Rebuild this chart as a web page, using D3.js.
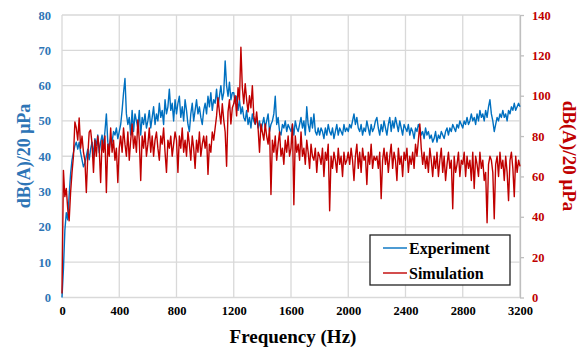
<!DOCTYPE html>
<html>
<head>
<meta charset="utf-8">
<script src="https://cdn.jsdelivr.net/npm/d3@7"></script>
<style>
  body { margin: 0; background: #fff; }
  svg { display: block; }
</style>
</head>
<body>
<div id="chart"></div>
<script>
// Frequency step of the sampled curves (Hz)
const freqStep = 10;

// Experiment, left axis dB(A), one value every 10 Hz from 0 to 3200
const experiment = [
  0, 8, 19, 24, 22, 29, 35, 39, 41, 43, 44, 42, 44, 41, 39, 37, 38, 40, 42, 39,
  42, 44, 40, 45, 43, 46, 41, 44, 46, 43, 47, 52, 44, 42, 45, 44, 47, 46, 48, 45,
  47, 49, 53, 58, 62, 52, 49, 51, 46, 53, 47, 52, 50, 48, 53, 46, 51, 49, 52, 48,
  50, 53, 48, 51, 54, 49, 52, 50, 55, 51, 53, 49, 56, 52, 54, 59, 53, 55, 50, 56,
  52, 55, 57, 51, 54, 50, 56, 53, 49, 47, 52, 55, 50, 53, 56, 52, 54, 51, 49, 53,
  55, 52, 57, 54, 58, 53, 56, 55, 59, 54, 57, 60, 56, 58, 67, 60, 57, 61, 56, 58,
  58, 55, 57, 53, 56, 52, 54, 51, 50, 53, 49, 51, 48, 52, 50, 49, 51, 48, 50, 47,
  49, 51, 48, 50, 52, 47, 49, 50, 52, 57, 49, 51, 47, 46, 49, 48, 50, 47, 49, 48,
  47, 49, 46, 50, 48, 47, 49, 51, 48, 50, 46, 54, 49, 47, 51, 48, 52, 47, 46, 48,
  46, 48, 47, 45, 48, 46, 49, 47, 46, 48, 45, 47, 49, 46, 48, 47, 46, 49, 47, 48,
  47, 49, 48, 50, 52, 49, 51, 48, 47, 49, 46, 48, 47, 50, 48, 46, 49, 47, 48, 50,
  51, 48, 46, 49, 47, 50, 48, 46, 49, 51, 47, 50, 48, 51, 49, 47, 50, 48, 46, 49,
  48, 47, 49, 46, 48, 47, 45, 48, 47, 49, 48, 46, 47, 45, 48, 46, 47, 45, 46, 44,
  45, 47, 44, 46, 45, 47, 46, 45, 47, 48, 46, 48, 47, 49, 48, 47, 49, 48, 50, 49,
  48, 50, 49, 51, 49, 50, 52, 50, 51, 49, 52, 50, 53, 51, 52, 50, 53, 51, 54, 56,
  52, 50, 47, 49, 51, 50, 52, 51, 53, 51, 52, 50, 53, 52, 54, 53, 55, 53, 54, 55, 54
];

// Simulation, right axis dB(A), same frequencies
const simulation = [
  2, 63, 50, 54, 44, 38, 52, 62, 70, 87, 84, 78, 89, 74, 80, 72, 68, 52, 70, 82,
  83, 76, 62, 78, 70, 80, 74, 57, 78, 72, 80, 52, 76, 70, 84, 72, 78, 68, 74, 57,
  74, 80, 72, 84, 76, 70, 82, 68, 78, 86, 74, 80, 72, 88, 78, 58, 80, 74, 82, 70,
  76, 84, 72, 80, 70, 78, 82, 74, 68, 80, 76, 84, 72, 62, 78, 74, 80, 70, 76, 82,
  78, 62, 80, 74, 84, 72, 78, 70, 82, 76, 68, 80, 74, 64, 78, 72, 82, 70, 76, 80,
  74, 80, 61, 76, 72, 82, 78, 84, 90, 99, 92, 86, 96, 88, 82, 65, 92, 98, 86, 94,
  96, 100, 90, 104, 98, 124, 104, 96, 106, 98, 92, 100, 94, 105, 90, 86, 92, 84, 72, 86,
  82, 78, 86, 80, 76, 84, 51, 78, 72, 80, 68, 76, 82, 70, 74, 66, 78, 72, 80, 70,
  74, 86, 46, 80, 72, 76, 68, 82, 70, 74, 66, 78, 72, 64, 76, 70, 68, 74, 62, 72,
  70, 66, 74, 60, 72, 68, 76, 43, 70, 64, 72, 68, 62, 74, 66, 70, 60, 72, 66, 68,
  72, 66, 74, 68, 58, 70, 76, 64, 72, 62, 74, 68, 70, 56, 72, 66, 76, 64, 70, 68,
  70, 64, 72, 49, 68, 74, 66, 72, 62, 70, 76, 64, 72, 68, 58, 74, 66, 70, 60, 72,
  68, 74, 62, 70, 66, 72, 64, 76, 70, 78, 86, 74, 66, 72, 64, 70, 62, 74, 68, 60,
  70, 64, 72, 60, 68, 74, 62, 70, 58, 66, 72, 64, 68, 44, 70, 62, 66, 72, 60, 68,
  66, 72, 60, 70, 64, 68, 58, 72, 54, 70, 66, 60, 72, 64, 68, 58, 62, 37, 66, 70,
  68, 62, 39, 66, 70, 60, 72, 64, 68, 58, 70, 62, 48, 68, 72, 64, 50, 70, 62, 68, 65
];

const xTicks = [0, 400, 800, 1200, 1600, 2000, 2400, 2800, 3200];
const leftTicks = [0, 10, 20, 30, 40, 50, 60, 70, 80];
const rightTicks = [0, 20, 40, 60, 80, 100, 120, 140];
const seriesNames = ["Experiment", "Simulation"];

const width = 587;
const height = 349;
const margin = { top: 15, right: 67, bottom: 51.5, left: 62 };
const innerW = width - margin.left - margin.right;
const innerH = height - margin.top - margin.bottom;

const blue = "#0070C0";
const red = "#C00000";
const gridColor = "#D9D9D9";
const serif = "'Liberation Serif', 'Times New Roman', serif";

const svg = d3.select("#chart")
  .append("svg")
  .attr("width", width)
  .attr("height", height);

const g = svg.append("g")
  .attr("transform", `translate(${margin.left}, ${margin.top})`);

const x = d3.scaleLinear().domain([0, 3200]).range([0, innerW]);
const yLeft = d3.scaleLinear().domain([0, 80]).range([innerH, 0]);
const yRight = d3.scaleLinear().domain([0, 140]).range([innerH, 0]);

// Grid lines
g.append("g")
  .selectAll("line")
  .data(leftTicks)
  .join("line")
  .attr("x1", 0)
  .attr("x2", innerW)
  .attr("y1", d => yLeft(d))
  .attr("y2", d => yLeft(d))
  .attr("stroke", gridColor)
  .attr("stroke-width", 1.3);

g.append("g")
  .selectAll("line")
  .data(xTicks)
  .join("line")
  .attr("x1", d => x(d))
  .attr("x2", d => x(d))
  .attr("y1", 0)
  .attr("y2", innerH)
  .attr("stroke", gridColor)
  .attr("stroke-width", 1.3);

// Bottom axis labels
const xAxis = d3.axisBottom(x)
  .tickValues(xTicks)
  .tickFormat(d3.format("d"))
  .tickSize(0)
  .tickPadding(9);
const xAxisG = g.append("g")
  .attr("transform", `translate(0, ${innerH})`)
  .call(xAxis);
xAxisG.select(".domain").remove();
xAxisG.selectAll("text")
  .style("font-family", serif)
  .style("font-size", "12.5px")
  .style("font-weight", "bold")
  .attr("fill", "#000");

// Left axis labels
const leftAxis = d3.axisLeft(yLeft).tickValues(leftTicks).tickSize(0).tickPadding(11);
const leftAxisG = g.append("g").call(leftAxis);
leftAxisG.select(".domain").remove();
leftAxisG.selectAll("text")
  .style("font-family", serif)
  .style("font-size", "12.5px")
  .style("font-weight", "bold")
  .attr("fill", "#2E75B6");

// Right axis
const rightAxis = d3.axisRight(yRight).tickValues(rightTicks).tickSize(4).tickPadding(8).tickSizeOuter(0);
const rightAxisG = g.append("g")
  .attr("transform", `translate(${innerW}, 0)`)
  .call(rightAxis);
rightAxisG.select(".domain").attr("stroke", "#BFBFBF").attr("stroke-width", 1.3);
rightAxisG.selectAll(".tick line").attr("stroke", "#BFBFBF").attr("stroke-width", 1.3);
rightAxisG.selectAll("text")
  .style("font-family", serif)
  .style("font-size", "12.5px")
  .style("font-weight", "bold")
  .attr("fill", red);

// Curves
const freqs = experiment.map((d, i) => i * freqStep);

const lineLeft = d3.line()
  .x((d, i) => x(freqs[i]))
  .y(d => yLeft(d));

const lineRight = d3.line()
  .x((d, i) => x(freqs[i]))
  .y(d => yRight(d));

g.append("path")
  .datum(experiment)
  .attr("d", lineLeft)
  .attr("fill", "none")
  .attr("stroke", blue)
  .attr("stroke-width", 1.4)
  .attr("stroke-linejoin", "round");

g.append("path")
  .datum(simulation)
  .attr("d", lineRight)
  .attr("fill", "none")
  .attr("stroke", red)
  .attr("stroke-width", 1.4)
  .attr("stroke-linejoin", "round");

// Axis titles
svg.append("text")
  .attr("x", margin.left + innerW / 2 + 2)
  .attr("y", 343)
  .attr("text-anchor", "middle")
  .style("font-family", serif)
  .style("font-size", "19px")
  .style("font-weight", "bold")
  .text("Frequency (Hz)");

svg.append("text")
  .attr("transform", "translate(30, 156) rotate(-90)")
  .attr("text-anchor", "middle")
  .style("font-family", serif)
  .style("font-size", "18px")
  .style("font-weight", "bold")
  .attr("fill", "#2E75B6")
  .text("dB(A)/20 μPa");

svg.append("text")
  .attr("transform", "translate(563, 156) rotate(90)")
  .attr("text-anchor", "middle")
  .style("font-family", serif)
  .style("font-size", "19px")
  .style("font-weight", "bold")
  .attr("fill", red)
  .text("dB(A)/20 μPa");

// Legend
const legend = svg.append("g").attr("transform", "translate(370, 235)");
legend.append("rect")
  .attr("width", 140)
  .attr("height", 50)
  .attr("fill", "#fff")
  .attr("stroke", "#222")
  .attr("stroke-width", 1.3);

legend.selectAll("g.item")
  .data(seriesNames)
  .join("g")
  .attr("class", "item")
  .attr("transform", (d, i) => `translate(0, ${13 + i * 25})`)
  .each(function (d, i) {
    const item = d3.select(this);
    item.append("line")
      .attr("x1", 13)
      .attr("x2", 37)
      .attr("stroke", i === 0 ? blue : red)
      .attr("stroke-width", 1.4);
    item.append("text")
      .attr("x", 39)
      .attr("dy", "0.35em")
      .style("font-family", serif)
      .style("font-size", "16px")
      .style("font-weight", "bold")
      .text(d);
  });
</script>
</body>
</html>
